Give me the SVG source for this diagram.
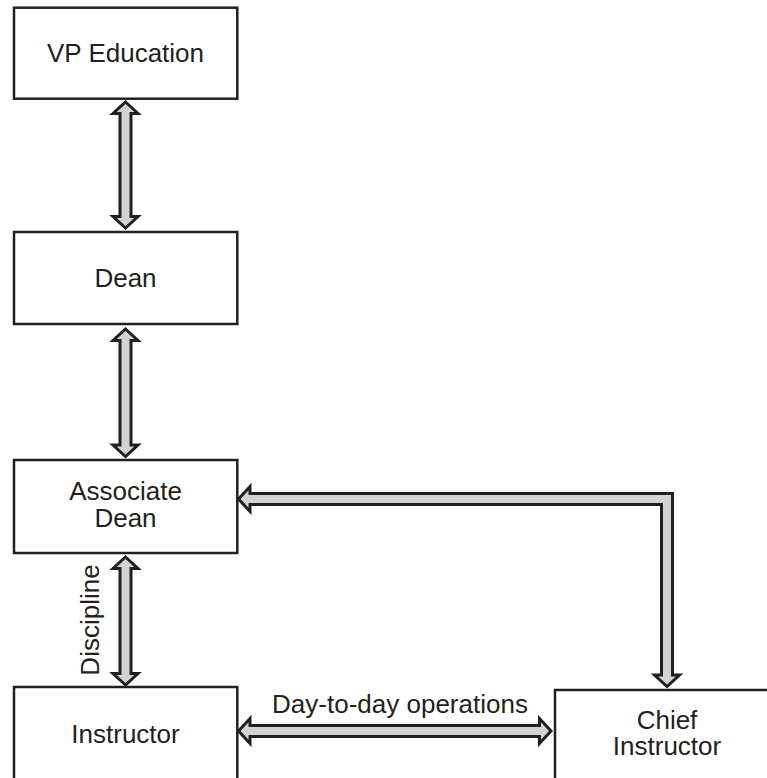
<svg xmlns="http://www.w3.org/2000/svg" width="767" height="778" viewBox="0 0 767 778">
<style>
.box{fill:#fff;stroke:#231f20;stroke-width:2.5}
.arr{fill:#d1d3d4;stroke:#231f20;stroke-width:3;stroke-linejoin:miter;stroke-miterlimit:10}
text{font-family:"Liberation Sans",Arial,sans-serif;font-size:26px;fill:#231f20;text-anchor:middle}
</style>
<rect width="767" height="778" fill="#fff"/>
<g id="connectors">
<path class="arr" d="M125.5,102 L138,113.5 L131,113.5 L131,216.5 L138,216.5 L125.5,228 L113,216.5 L120,216.5 L120,113.5 L113,113.5 Z"/>
<path class="arr" d="M125.5,329 L138,340.5 L131,340.5 L131,445 L138,445 L125.5,456.5 L113,445 L120,445 L120,340.5 L113,340.5 Z"/>
<path class="arr" d="M125.5,557 L138,568.5 L131,568.5 L131,673.5 L138,673.5 L125.5,685 L113,673.5 L120,673.5 L120,568.5 L113,568.5 Z"/>
<path class="arr" d="M238.5,731 L250,718.5 L250,725.5 L539.5,725.5 L539.5,718.5 L551,731 L539.5,743.5 L539.5,736.5 L250,736.5 L250,743.5 Z"/>
<path class="arr" d="M238.5,499 L250,486.5 L250,493.5 L672.5,493.5 L672.5,675 L679.5,675 L667,686.5 L654.5,675 L661.5,675 L661.5,504.5 L250,504.5 L250,511.5 Z"/>
<text transform="translate(99,620) rotate(-90)">Discipline</text>
<text x="400" y="713">Day-to-day operations</text>
</g>
<g id="vp-education">
<rect class="box" x="14" y="7.7" width="223.3" height="91"/>
<text x="125.5" y="62">VP Education</text>
</g>
<g id="dean">
<rect class="box" x="14" y="232" width="223.3" height="92"/>
<text x="125.5" y="287">Dean</text>
</g>
<g id="associate-dean">
<rect class="box" x="14" y="460" width="223.3" height="93"/>
<text x="125.5" y="500">Associate</text>
<text x="125.5" y="527">Dean</text>
</g>
<g id="instructor">
<rect class="box" x="14" y="687" width="223.3" height="110"/>
<text x="125.5" y="743">Instructor</text>
</g>
<g id="chief-instructor">
<rect class="box" x="555" y="690" width="230" height="110"/>
<text x="667" y="729">Chief</text>
<text x="667" y="755">Instructor</text>
</g>
</svg>
